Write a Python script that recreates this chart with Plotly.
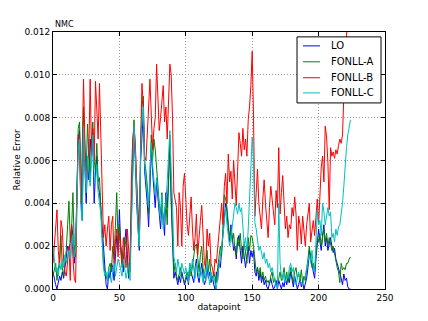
import numpy as np
import plotly.graph_objects as go

# relative error values, in units of 1e-4
lo = [
    8, 4, 2, 0, 3, 6, 4, 8, 5, 10,
    14, 20, 18, 22, 30, 25, 12, 20, 45, 70,
    74, 45, 32, 74, 55, 40, 60, 51, 70, 62,
    70, 40, 55, 62, 48, 45, 38, 30, 20, 10,
    2, 0, 8, 5, 12, 10, 4, 15, 25, 18,
    37, 20, 12, 8, 22, 28, 16, 5, 10, 40,
    55, 72, 60, 40, 30, 18, 60, 75, 82, 55,
    48, 40, 29, 50, 65, 55, 45, 38, 50, 42,
    35, 28, 40, 32, 25, 45, 38, 50, 68, 40,
    20, 5, 8, 4, 2, 6, 3, 8, 4, 2,
    4, 6, 2, 10, 8, 5, 3, 10, 14, 6,
    3, 8, 12, 6, 2, 4, 10, 5, 8, 3,
    6, 2, 0, 8, 4, 12, 10, 18, 25, 30,
    40, 36, 28, 22, 30, 25, 18, 20, 14, 22,
    25, 18, 12, 20, 16, 10, 15, 20, 12, 18,
    15, 18, 8, 6, 10, 4, 8, 3, 6, 2,
    4, 1, 0, 3, 5, 2, 0, 1, 4, 0,
    4, 2, 0, 3, 1, 5, 2, 6, 3, 8,
    4, 1, 6, 3, 0, 2, 5, 1, 3, 0,
    2, 5, 10, 18, 14, 12, 8, 5, 14, 20,
    28, 22, 18, 25, 30, 20, 24, 18, 22, 24,
    20, 17, 19, 14, 12, 10, 8, 5, 2, 7, 4, 5, 1, 0, 0,
]
fonll_a = [
    6, 9, 12, 4, 8, 14, 25, 10, 6, 12,
    18, 30, 41, 22, 28, 45, 20, 15, 50, 75,
    78, 50, 40, 85, 65, 55, 77, 60, 50, 70,
    78, 60, 55, 68, 50, 52, 40, 25, 12, 8,
    6, 4, 10, 12, 8, 20, 14, 30, 45, 22,
    30, 18, 10, 14, 24, 20, 12, 6, 14, 45,
    65, 79, 65, 45, 35, 20, 65, 85, 90, 60,
    55, 48, 35, 58, 72, 60, 70, 65, 55, 48,
    40, 35, 45, 30, 38, 42, 30, 55, 72, 45,
    25, 8, 12, 6, 4, 8, 10, 6, 5, 3,
    6, 8, 4, 12, 6, 10, 15, 20, 21, 12,
    8, 16, 20, 10, 5, 12, 18, 8, 14, 6,
    4, 8, 5, 3, 10, 14, 20, 16, 28, 44,
    42, 38, 30, 24, 28, 22, 26, 18, 16, 24,
    20, 26, 18, 14, 22, 16, 12, 24, 18, 25,
    24, 20, 12, 8, 10, 6, 10, 5, 8, 4,
    6, 3, 4, 2, 6, 8, 3, 5, 2, 3,
    5, 8, 4, 6, 10, 4, 8, 3, 6, 10,
    6, 3, 8, 10, 5, 7, 4, 9, 3, 6,
    4, 8, 14, 20, 15, 10, 12, 8, 16, 24,
    22, 26, 20, 24, 28, 22, 26, 20, 24, 21,
    18, 20, 16, 12, 10, 8, 3, 12, 9, 10, 9, 12, 12, 14, 15,
]
fonll_b = [
    12, 22, 30, 37, 18, 10, 32, 28, 14, 8,
    6, 12, 20, 4, 30, 15, 5, 3, 40, 72,
    60, 40, 65, 98, 70, 50, 58, 65, 98, 63,
    75, 60, 97, 80, 70, 96, 72, 46, 24, 30,
    20, 28, 34, 18, 30, 34, 12, 22, 28, 15,
    26, 20, 12, 24, 18, 10, 28, 14, 8, 50,
    70, 76, 68, 50, 35, 25, 70, 96, 85, 62,
    60, 70, 85, 98, 82, 65, 75, 80, 105, 90,
    74, 80, 86, 95, 78, 85, 70, 90, 105, 100,
    80, 45, 42, 38, 20, 45, 38, 20, 48, 54,
    42, 30, 25, 35, 43, 28, 18, 24, 35, 16,
    26, 32, 39, 22, 12, 10, 28, 20, 26, 12,
    10, 6, 14, 12, 20, 28, 35, 40, 30, 48,
    54, 40, 63, 50, 55, 42, 60, 48, 39, 55,
    73, 68, 62, 75, 65, 70, 62, 79, 85, 95,
    111, 80, 34, 45, 56, 40, 35, 28, 42, 51,
    40, 30, 24, 38, 48, 42, 36, 30, 46, 38,
    66, 35, 45, 53, 40, 28, 34, 24, 30, 28,
    38, 34, 43, 35, 18, 34, 30, 21, 34, 28,
    20, 30, 36, 40, 22, 28, 32, 25, 34, 42,
    30, 48, 57, 62, 50, 76, 71, 59, 37, 66,
    62, 64, 61, 65, 63, 67, 70, 68, 72, 90, 110, 125, 135, 145, 150,
]
fonll_c = [
    20, 12, 8, 10, 6, 12, 9, 14, 10, 16,
    12, 15, 18, 14, 20, 25, 15, 18, 40, 65,
    70, 38, 32, 76, 58, 45, 62, 55, 48, 60,
    72, 52, 50, 58, 45, 40, 35, 22, 10, 6,
    8, 4, 10, 6, 3, 8, 12, 6, 10, 14,
    12, 8, 6, 14, 10, 5, 8, 12, 4, 30,
    60, 76, 62, 42, 28, 20, 62, 80, 85, 58,
    50, 45, 38, 55, 68, 58, 52, 44, 52, 46,
    38, 32, 44, 28, 35, 40, 50, 62, 74, 55,
    40, 15, 12, 8, 14, 10, 6, 12, 9, 7,
    10, 6, 3, 12, 8, 14, 9, 5, 12, 8,
    5, 10, 6, 3, 8, 4, 12, 6, 2, 8,
    4, 6, 2, 0, 6, 10, 14, 20, 25, 32,
    38, 30, 26, 20, 24, 30, 36, 40, 38, 35,
    40, 36, 38, 30, 20, 24, 18, 28, 40, 55,
    71, 60, 31, 28, 22, 18, 20, 16, 14, 17,
    12, 14, 10, 12, 8, 10, 6, 4, 2, 0,
    40, 12, 6, 4, 8, 3, 6, 5, 10, 12,
    8, 10, 3, 2, 5, 8, 4, 3, 2, 4,
    6, 10, 14, 16, 12, 18, 10, 8, 22, 37,
    30, 32, 25, 40, 36, 30, 34, 38, 34, 36,
    24, 26, 22, 28, 25, 29, 30, 34, 40, 48, 58, 66, 72, 76, 79,
]

series = [
    ("LO", lo, "#0000ff"),
    ("FONLL-A", fonll_a, "#008000"),
    ("FONLL-B", fonll_b, "#ff0000"),
    ("FONLL-C", fonll_c, "#00bfbf"),
]

fig = go.Figure()
for name, vals, color in series:
    y = np.array(vals) * 1e-4
    fig.add_trace(go.Scatter(
        x=np.arange(len(y)), y=y, mode="lines", name=name,
        line=dict(color=color, width=1),
    ))

# matplotlib-style legend box drawn in paper coordinates
shapes = [dict(type="rect", xref="paper", yref="paper", layer="above",
               x0=0.735, x1=0.988, y0=0.724, y1=0.981,
               line=dict(color="black", width=1), fillcolor="white")]
annotations = []
row_y = [0.946, 0.884, 0.822, 0.763]
for (name, _, color), ry in zip(series, row_y):
    shapes.append(dict(type="line", xref="paper", yref="paper", layer="above",
                       x0=0.753, x1=0.804, y0=ry, y1=ry,
                       line=dict(color=color, width=1)))
    annotations.append(dict(text=name, x=0.832, y=ry, xref="paper", yref="paper",
                            xanchor="left", yanchor="middle", showarrow=False,
                            font=dict(size=10)))
annotations.append(dict(text="NMC", x=0, y=1, xref="paper", yref="paper",
                        xanchor="left", yanchor="bottom", showarrow=False,
                        font=dict(size=8), yshift=1))
annotations.append(dict(text="Relative Error", x=0, y=0.5, xref="paper", yref="paper",
                        xanchor="center", yanchor="middle", showarrow=False,
                        textangle=-90, xshift=-37, font=dict(size=9)))

axis_style = dict(
    showline=True, linecolor="black", linewidth=1, mirror="ticks",
    ticks="inside", ticklen=4, tickcolor="black",
    showgrid=True, gridcolor="#999999", griddash="1px,2px", gridwidth=1,
    zeroline=False, tickfont=dict(size=9, color="black"),
    automargin=False,
)

# page body adds an 8px offset, so margins are shifted to keep the plot area in place
fig.update_layout(
    width=428, height=321,
    margin=dict(l=45, r=51, t=24, b=40),
    paper_bgcolor="white", plot_bgcolor="white",
    font=dict(family="DejaVu Sans", size=9, color="black"),
    showlegend=False,
    shapes=shapes,
    annotations=annotations,
)
fig.update_xaxes(axis_style, range=[0, 250], dtick=50,
                 title=dict(text="datapoint", standoff=1, font=dict(size=9)))
fig.update_yaxes(axis_style, range=[0, 0.012], dtick=0.002, tickformat=".3f")

fig.write_html("out.html")
